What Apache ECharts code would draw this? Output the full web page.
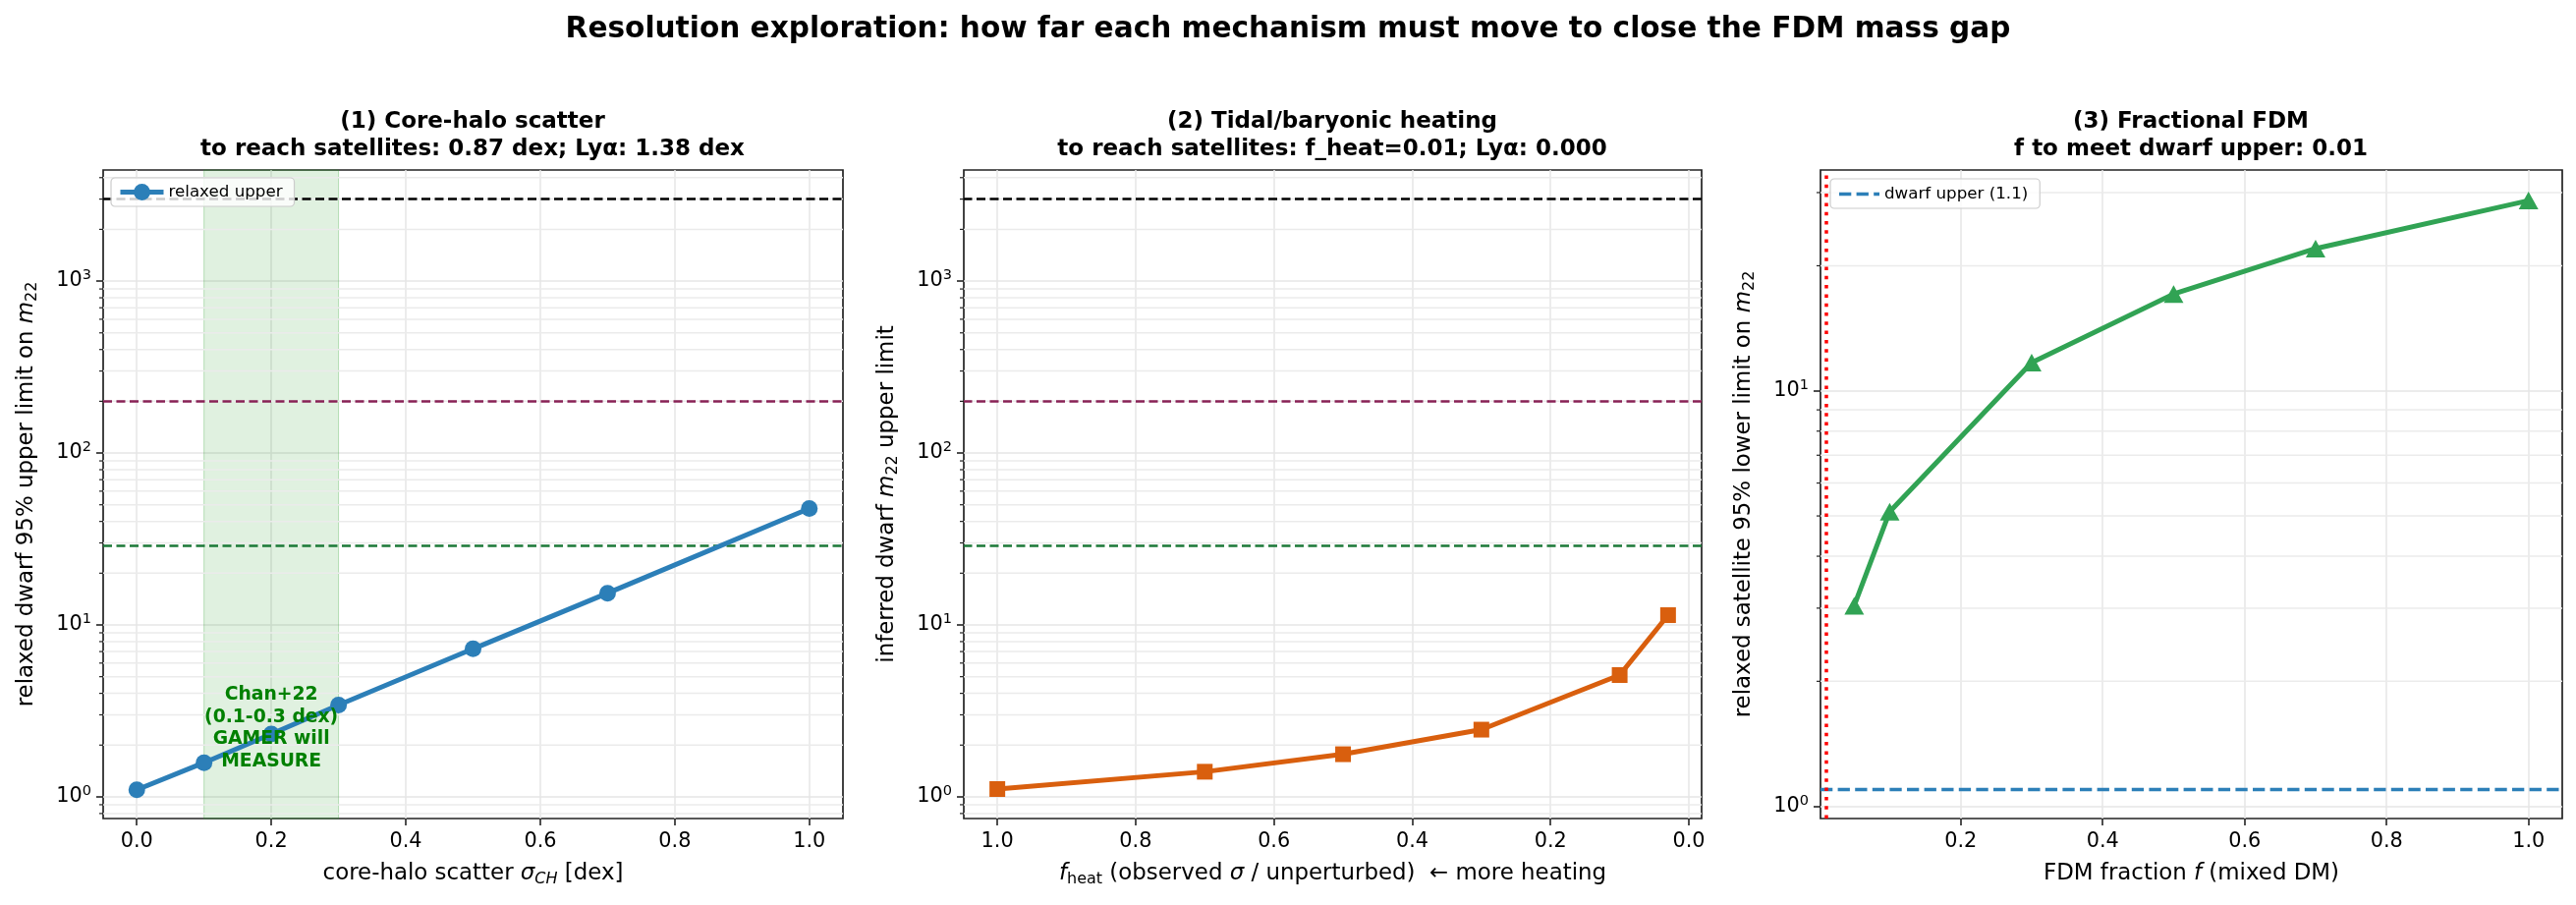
<!DOCTYPE html>
<html>
<head>
<meta charset="utf-8">
<script src="https://cdn.jsdelivr.net/npm/echarts@6/dist/echarts.min.js"></script>
<style>
html, body { margin: 0; padding: 0; background: #fff; }
#main { width: 2622px; height: 921px; }
</style>
</head>
<body>
<div id="main"></div>
<script>
// (1) core-halo scatter
var sigmaCH = [0.0, 0.1, 0.2, 0.3, 0.5, 0.7, 1.0];
var dwarfUpper = [1.10, 1.58, 2.32, 3.42, 7.26, 15.3, 47.6];
// (2) tidal / baryonic heating
var fHeat = [1.0, 0.7, 0.5, 0.3, 0.1, 0.03];
var heatedUpper = [1.11, 1.40, 1.77, 2.46, 5.11, 11.4];
// (3) fractional FDM
var fdmFrac = [0.05, 0.1, 0.3, 0.5, 0.7, 1.0];
var satLower = [3.04, 5.12, 11.7, 17.1, 22.0, 28.7];
// reference levels drawn on panels 1 and 2
var refLevels = [3000, 200, 28.8];
var refColors = ['#000000', '#882255', '#1b7837'];
var dwarfUpperRef = 1.1;
var fNeeded = 0.01;
var chanBand = [0.1, 0.3];
// tick labels
var xTicks = [0, 0.2, 0.4, 0.6, 0.8, 1.0];
var xTicks3 = [0.2, 0.4, 0.6, 0.8, 1.0];
var yTicks12 = [1, 10, 100, 1000];
var yTicks3 = [1, 10];

var font = 'DejaVu Sans';

function pairs(xs, ys) {
    return xs.map(function (x, i) { return [x, ys[i]]; });
}

// 2..9 times each decade, inside (lo, hi)
function minorTicks(lo, hi) {
    var out = [];
    for (var e = -1; e <= 4; e++) {
        for (var k = 2; k <= 9; k++) {
            var v = k * Math.pow(10, e);
            if (v > lo && v < hi) out.push(v);
        }
    }
    return out;
}

var chartDom = document.getElementById('main');
var myChart = echarts.init(chartDom, null, { renderer: 'canvas' });

var tickStyle = { color: '#222', width: 1.6 };
var gridLineStyle = { color: '#e6e6e6', width: 1.5 };

function xAxisCfg(idx, min, max, ticks, name, inverse) {
    return {
        type: 'value', gridIndex: idx, min: min, max: max, inverse: !!inverse,
        axisLine: { show: false, onZero: false },
        axisTick: { show: true, length: 7, lineStyle: tickStyle, customValues: ticks },
        axisLabel: {
            customValues: ticks, margin: 13, color: '#000', fontFamily: font, fontSize: 20.8,
            formatter: function (v) { return v.toFixed(1); }
        },
        splitLine: { show: true, lineStyle: gridLineStyle },
        name: name, nameLocation: 'middle', nameGap: 42,
        nameTextStyle: {
            fontFamily: font, fontSize: 22.9, color: '#000', lineHeight: 28,
            rich: {
                i: { fontFamily: font, fontSize: 22.9, fontStyle: 'italic', color: '#000', lineHeight: 28 },
                sub: { fontFamily: font, fontSize: 16, color: '#000', lineHeight: 10, verticalAlign: 'bottom' },
                isub: { fontFamily: font, fontSize: 16, fontStyle: 'italic', color: '#000', lineHeight: 10, verticalAlign: 'bottom' }
            }
        }
    };
}

function yAxisCfg(idx, min, max, ticks, name) {
    return {
        type: 'log', logBase: 10, gridIndex: idx, min: min, max: max, position: 'left',
        axisLine: { show: false, onZero: false },
        axisTick: { show: true, length: 7, lineStyle: tickStyle, customValues: ticks },
        axisLabel: {
            customValues: ticks, margin: 12, color: '#000', fontFamily: font, fontSize: 20.8,
            formatter: function (v) { return '{b|10}{p|' + Math.round(Math.log10(v)) + '}'; },
            rich: {
                b: { fontFamily: font, fontSize: 20.8, color: '#000', lineHeight: 26 },
                p: { fontFamily: font, fontSize: 14.5, color: '#000', lineHeight: 12, verticalAlign: 'top' }
            }
        },
        splitLine: { show: true, lineStyle: gridLineStyle },
        name: name, nameLocation: 'middle', nameGap: 64, nameRotate: 90,
        nameTextStyle: {
            fontFamily: font, fontSize: 22.9, color: '#000', lineHeight: 28,
            rich: {
                i: { fontFamily: font, fontSize: 22.9, fontStyle: 'italic', color: '#000', lineHeight: 28 },
                sub: { fontFamily: font, fontSize: 16, color: '#000', lineHeight: 10, verticalAlign: 'bottom' }
            }
        }
    };
}

// minor log grid lines + small outside ticks, placed through the y scale
function minorSeries(idx, values) {
    return {
        type: 'custom', xAxisIndex: idx, yAxisIndex: idx, z: 1, silent: true,
        data: values.map(function (v) { return [0.5, v]; }),
        encode: { x: 0, y: 1 },
        renderItem: function (params, api) {
            var cs = params.coordSys;
            var y = api.coord([api.value(0), api.value(1)])[1];
            return {
                type: 'group',
                children: [
                    { type: 'line', shape: { x1: cs.x, y1: y, x2: cs.x + cs.width, y2: y },
                      style: { stroke: '#ebebeb', lineWidth: 1.5 } },
                    { type: 'line', shape: { x1: cs.x - 4, y1: y, x2: cs.x, y2: y },
                      style: { stroke: '#222', lineWidth: 1.2 } }
                ]
            };
        }
    };
}

function refLineSeries(idx) {
    return {
        type: 'line', xAxisIndex: idx, yAxisIndex: idx, data: [], silent: true, z: 3,
        markLine: {
            silent: true, symbol: ['none', 'none'], label: { show: false }, animation: false,
            data: refLevels.map(function (v, i) {
                return { yAxis: v, lineStyle: { color: refColors[i], type: [9, 4.5], width: 2.5 } };
            })
        }
    };
}

var titleStyle = { fontFamily: font, fontSize: 23, fontWeight: 'bold', color: '#000', lineHeight: 28 };
var legendBox = {
    orient: 'vertical', z: 20,
    backgroundColor: 'rgba(255,255,255,0.8)', borderColor: '#cccccc', borderWidth: 1.2, borderRadius: 4,
    textStyle: { fontFamily: font, fontSize: 16.7, color: '#000' }
};

var option = {
    animation: false,
    backgroundColor: '#ffffff',
    textStyle: { fontFamily: font },
    title: [
        {
            text: 'Resolution exploration: how far each mechanism must move to close the FDM mass gap',
            left: 'center', top: 15, padding: 0,
            textStyle: { fontFamily: font, fontSize: 29.6, fontWeight: 'bold', color: '#000' }
        },
        { text: '(1) Core-halo scatter\nto reach satellites: 0.87 dex; Lyα: 1.38 dex',
          left: 481, top: 110, textAlign: 'center', padding: 0, textStyle: titleStyle },
        { text: '(2) Tidal/baryonic heating\nto reach satellites: f_heat=0.01; Lyα: 0.000',
          left: 1356, top: 110, textAlign: 'center', padding: 0, textStyle: titleStyle },
        { text: '(3) Fractional FDM\nf to meet dwarf upper: 0.01',
          left: 2230, top: 110, textAlign: 'center', padding: 0, textStyle: titleStyle }
    ],
    grid: [
        { left: 105, top: 173, width: 753, height: 660, show: true, borderColor: '#222', borderWidth: 1.7, backgroundColor: 'transparent' },
        { left: 981, top: 173, width: 751, height: 660, show: true, borderColor: '#222', borderWidth: 1.7, backgroundColor: 'transparent' },
        { left: 1853, top: 173, width: 755, height: 660, show: true, borderColor: '#222', borderWidth: 1.7, backgroundColor: 'transparent' }
    ],
    legend: [
        Object.assign({
            data: ['relaxed upper'], left: 113, top: 181,
            padding: [6, 12, 6, 7], itemWidth: 44, itemHeight: 21,
            lineStyle: { width: 5 }
        }, legendBox),
        Object.assign({
            data: [{
                name: 'dwarf upper (1.1)',
                icon: 'path://M0,0h12.3v3.3h-12.3z M17.6,0h12.3v3.3h-12.3z M35.2,0h5.8v3.3h-5.8z',
                itemStyle: { color: '#2c7fb8' }
            }],
            left: 1863, top: 182,
            padding: [7, 12, 6, 9], itemWidth: 41, itemHeight: 4
        }, legendBox)
    ],
    xAxis: [
        xAxisCfg(0, -0.05, 1.05, xTicks, 'core-halo scatter {i|σ}{isub|CH} [dex]', false),
        xAxisCfg(1, -0.0185, 1.0485, xTicks, '{i|f}{sub|heat} (observed {i|σ} / unperturbed)  ← more heating', true),
        xAxisCfg(2, 0.0025, 1.0475, xTicks3, 'FDM fraction {i|f} (mixed DM)', false)
    ],
    yAxis: [
        yAxisCfg(0, 0.748, 4430, yTicks12, 'relaxed dwarf 95% upper limit on {i|m}{sub|22}'),
        yAxisCfg(1, 0.748, 4430, yTicks12, 'inferred dwarf {i|m}{sub|22} upper limit'),
        yAxisCfg(2, 0.935, 34, yTicks3, 'relaxed satellite 95% lower limit on {i|m}{sub|22}')
    ],
    series: [
        // Chan+22 band
        {
            type: 'line', xAxisIndex: 0, yAxisIndex: 0, data: [], silent: true, z: 1,
            markArea: {
                silent: true,
                itemStyle: { color: 'rgba(44,160,44,0.15)', borderColor: 'rgba(44,160,44,0.3)', borderWidth: 1 },
                data: [[{ xAxis: chanBand[0] }, { xAxis: chanBand[1] }]]
            }
        },
        minorSeries(0, minorTicks(0.748, 4430)),
        minorSeries(1, minorTicks(0.748, 4430)),
        minorSeries(2, minorTicks(0.935, 34)),
        refLineSeries(0),
        refLineSeries(1),
        {
            name: 'relaxed upper', type: 'line', xAxisIndex: 0, yAxisIndex: 0, z: 5,
            data: pairs(sigmaCH, dwarfUpper),
            symbol: 'circle', symbolSize: 17,
            lineStyle: { color: '#2c7fb8', width: 5 },
            itemStyle: { color: '#2c7fb8' }
        },
        // annotation text, drawn above the line
        {
            type: 'line', xAxisIndex: 0, yAxisIndex: 0, data: [], silent: true, z: 10,
            markPoint: {
                silent: true, z: 30, symbol: 'circle', symbolSize: 1, itemStyle: { color: 'rgba(0,0,0,0)' },
                label: {
                    show: true, position: 'inside', align: 'center', verticalAlign: 'middle',
                    fontFamily: font, fontSize: 18.75, fontWeight: 'bold', color: 'green', lineHeight: 22.5,
                    formatter: 'Chan+22\n(0.1-0.3 dex)\nGAMER will\nMEASURE'
                },
                data: [{ coord: [0.2, 2.5] }]
            }
        },
        {
            name: 'heated', type: 'line', xAxisIndex: 1, yAxisIndex: 1, z: 5,
            data: pairs(fHeat, heatedUpper),
            symbol: 'rect', symbolSize: 16,
            lineStyle: { color: '#d95f0e', width: 5 },
            itemStyle: { color: '#d95f0e' }
        },
        {
            name: 'dwarf upper (1.1)', type: 'line', xAxisIndex: 2, yAxisIndex: 2, data: [], z: 3,
            symbol: 'none', silent: true,
            lineStyle: { color: '#2c7fb8', type: [12.3, 5.3], width: 3.3 },
            itemStyle: { color: '#2c7fb8' },
            markLine: {
                silent: true, symbol: ['none', 'none'], label: { show: false },
                data: [
                    { yAxis: dwarfUpperRef, lineStyle: { color: '#2c7fb8', type: [12.3, 5.3], width: 3.3 } },
                    { xAxis: fNeeded, lineStyle: { color: '#ff0000', type: [3.5, 5.8], width: 3.5, cap: 'butt' } }
                ]
            }
        },
        {
            name: 'fractional', type: 'line', xAxisIndex: 2, yAxisIndex: 2, z: 5,
            data: pairs(fdmFrac, satLower),
            symbol: 'triangle', symbolSize: [20, 18],
            lineStyle: { color: '#31a354', width: 5 },
            itemStyle: { color: '#31a354' }
        }
    ]
};

option && myChart.setOption(option);
</script>
</body>
</html>
